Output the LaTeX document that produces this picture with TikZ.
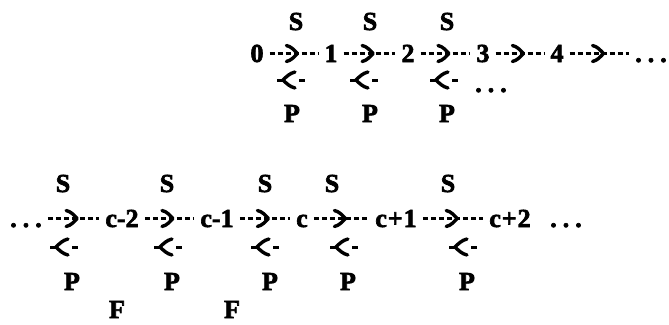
\documentclass[tikz,border=0pt]{standalone}
\usepackage{fontspec}
\setmainfont{Liberation Serif}[BoldFeatures={FakeBold=2.5}]
\usetikzlibrary{decorations.markings}
\newcommand{\tdots}{.\kern6pt.\kern6pt.}
\begin{document}
\begin{tikzpicture}[x=1pt,y=-1pt,
  txt/.style={anchor=base, inner xsep=6pt, inner ysep=0pt, text height=17pt, text depth=0pt,
              font=\bfseries\fontsize{26}{26}\selectfont},
  fwd/.style={line width=3pt, dash pattern=on 5pt off 3pt, postaction={decorate},
    decoration={markings, mark=at position #1 with {\draw[solid, line width=3.4pt, line cap=round, line join=round]
      (-11pt,8pt) .. controls (-6pt,7pt) and (-3pt,3pt) .. (0pt,0pt) .. controls (-3pt,-3pt) and (-6pt,-7pt) .. (-11pt,-8pt);}}},
  fwd/.default=0.57,
  bwd/.style={line width=3pt, dash pattern=on 6pt off 16pt on 6pt off 20pt, postaction={decorate},
    decoration={markings, mark=at position 6pt with {\draw[solid, line width=3.4pt, line cap=round, line join=round]
      (12pt,8pt) .. controls (7pt,7pt) and (3pt,3pt) .. (0pt,0pt) .. controls (3pt,-3pt) and (7pt,-7pt) .. (12pt,-8pt);}}}
]
\useasboundingbox (0,0) rectangle (669,324);

% ---------- row 1 ----------
\node[txt] (n0) at (257,62) {0};
\node[txt] (n1) at (331,62) {1};
\node[txt] (n2) at (408,62) {2};
\node[txt] (n3) at (483,62) {3};
\node[txt] (n4) at (557,62) {4};
\node[txt] (nd) at (651,62) {\tdots};

\node[txt] (sa1) at (296,30) {S};
\node[txt] (sa2) at (370,30) {S};
\node[txt] (sa3) at (447,30) {S};

\node[txt] (pa1) at (292,122) {P};
\node[txt] (pa2) at (370,122) {P};
\node[txt] (pa3) at (447,122) {P};

\node[txt] (bd) at (491,92) {\tdots};

\draw[fwd] (n0) -- (n1);
\draw[fwd] (n1) -- (n2);
\draw[fwd] (n2) -- (n3);
\draw[fwd] (n3) -- (n4);
\draw[fwd] (n4) -- (nd);

\foreach \i/\x in {1/292,2/365,3/445}{
  \coordinate (ba\i l) at (\x-15,80);
  \coordinate (ba\i r) at (\x+13,80);
  \draw[bwd] (ba\i l) -- (ba\i r);
}

% ---------- row 2 ----------
\node[txt] (d0) at (26,227) {\tdots};
\node[txt] (m2) at (122,227) {c-2};
\node[txt] (m1) at (217,227) {c-1};
\node[txt] (m0) at (302,227) {c};
\node[txt] (q1) at (396,227) {c\kern1pt+\kern1pt1};
\node[txt] (q2) at (510,227) {c\kern1pt+\kern1pt2};
\node[txt] (d1) at (566,227) {\tdots};

\node[txt] (sb1) at (63,192) {S};
\node[txt] (sb2) at (167,192) {S};
\node[txt] (sb3) at (265,192) {S};
\node[txt] (sb4) at (332,192) {S};
\node[txt] (sb5) at (448,192) {S};

\node[txt] (pb1) at (72,290) {P};
\node[txt] (pb2) at (172,290) {P};
\node[txt] (pb3) at (270,290) {P};
\node[txt] (pb4) at (348,290) {P};
\node[txt] (pb5) at (467,290) {P};

\node[txt] (f1) at (117,318) {F};
\node[txt] (f2) at (232,318) {F};

\draw[fwd] (d0) -- (m2);
\draw[fwd] (m2) -- (m1);
\draw[fwd] (m1) -- (m0);
\draw[fwd] (m0) -- (q1);
\draw[fwd] (q1) -- (q2);

\foreach \i/\x in {1/65,2/169,3/266,4/345,5/464}{
  \coordinate (bb\i l) at (\x-15,247);
  \coordinate (bb\i r) at (\x+13,247);
  \draw[bwd] (bb\i l) -- (bb\i r);
}
\end{tikzpicture}
\end{document}
